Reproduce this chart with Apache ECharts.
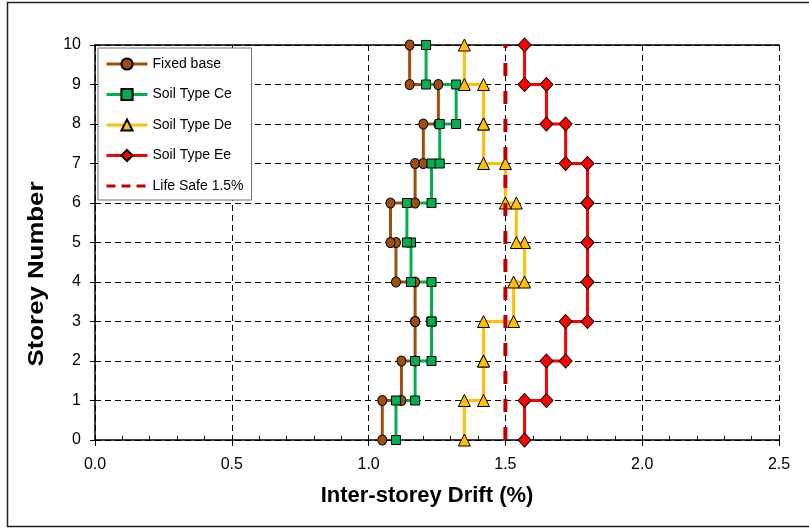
<!DOCTYPE html>
<html>
<head>
<meta charset="utf-8">
<script src="https://cdn.jsdelivr.net/npm/echarts@6/dist/echarts.min.js"></script>
<style>
  html, body { margin: 0; padding: 0; background: #fff; }
  #chart { width: 809px; height: 529px; }
</style>
</head>
<body>
<div id="chart"></div>
<script>
// Floor levels (0 = base, 10 = roof)
const storeys = [0, 1, 2, 3, 4, 5, 6, 7, 8, 9, 10];
const xTickLabels = ['0.0', '0.5', '1.0', '1.5', '2.0', '2.5'];
const yTickLabels = ['0', '1', '2', '3', '4', '5', '6', '7', '8', '9', '10'];

const seriesNames = ['Fixed base', 'Soil Type Ce', 'Soil Type De', 'Soil Type Ee', 'Life Safe 1.5%'];

// Inter-storey drift (%) of storeys 1..10
const driftFixed = [1.05, 1.12, 1.17, 1.17, 1.10, 1.08, 1.17, 1.20, 1.255, 1.15];
const driftCe    = [1.10, 1.17, 1.23, 1.23, 1.155, 1.14, 1.23, 1.26, 1.32, 1.21];
const driftDe    = [1.35, 1.42, 1.42, 1.53, 1.57, 1.54, 1.50, 1.42, 1.42, 1.35];
const driftEe    = [1.57, 1.65, 1.72, 1.80, 1.80, 1.80, 1.80, 1.72, 1.65, 1.57];
const lifeSafeLimit = 1.5;

// Each storey's drift is held constant between its lower and upper floor,
// giving a stepped profile with a marker at both ends of every step.
function stepProfile(drift) {
  const pts = [[drift[0], storeys[0]]];
  for (let i = 1; i < storeys.length - 1; i++) {
    pts.push([drift[i - 1], storeys[i]]);
    pts.push([drift[i], storeys[i]]);
  }
  pts.push([drift[drift.length - 1], storeys[storeys.length - 1]]);
  return pts;
}

const FONT = 'Liberation Sans, Arial, sans-serif';
const gridDash = { color: '#000', width: 1, type: [6, 4] };

function profileSeries(name, drift, color, symbol, size) {
  return {
    name: name,
    type: 'line',
    data: stepProfile(drift),
    symbol: symbol,
    symbolSize: size,
    showAllSymbol: true,
    lineStyle: { color: color, width: 3 },
    itemStyle: { color: color, borderColor: '#000', borderWidth: 1 },
    emphasis: { disabled: true },
    z: 3
  };
}

const chart = echarts.init(document.getElementById('chart'), null, { renderer: 'canvas' });

chart.setOption({
  animation: false,
  backgroundColor: '#fff',
  textStyle: { fontFamily: FONT },
  grid: { left: 95, right: 30, top: 45, bottom: 89, containLabel: false },
  legend: {
    data: [
      seriesNames[0], seriesNames[1], seriesNames[2], seriesNames[3],
      // limit line: dashed stroke only, no marker
      { name: seriesNames[4], itemStyle: { opacity: 0 }, lineStyle: { type: [9, 6], width: 3 } }
    ],
    orient: 'vertical',
    left: 98,
    top: 48,
    padding: [9, 8, 7, 7],
    itemWidth: 41,
    itemHeight: 14,
    itemGap: 16.5,
    lineStyle: { width: 3 },
    backgroundColor: '#fff',
    borderColor: '#6e6e6e',
    borderWidth: 1,
    textStyle: { fontFamily: FONT, fontSize: 14, color: '#000' },
    selectedMode: false
  },
  xAxis: [
    {
      type: 'value', position: 'bottom', min: 0, max: 2.5, interval: 0.5,
      axisLine: { show: true, lineStyle: { color: '#000', width: 1.5 } },
      axisTick: { show: true, inside: false, length: 6, lineStyle: { color: '#000' } },
      axisLabel: {
        margin: 17, fontSize: 16, color: '#000', fontFamily: FONT,
        formatter: (v) => xTickLabels[Math.round(v / 0.5)]
      },
      splitLine: { show: true, lineStyle: gridDash }
    },
    {
      // minor ticks every 0.1, pointing into the plot
      type: 'value', position: 'bottom', min: 0, max: 2.5, interval: 0.5,
      axisLine: { show: false },
      axisTick: { show: false, inside: true },
      minorTick: { show: true, splitNumber: 5, length: 4, lineStyle: { color: '#000', width: 1 } },
      axisLabel: { show: false },
      splitLine: { show: false }
    },
    {
      // solid top frame
      type: 'value', position: 'top', min: 0, max: 2.5, interval: 0.5,
      axisLine: { show: true, lineStyle: { color: '#000', width: 1.5 } },
      axisTick: { show: false },
      axisLabel: { show: false },
      splitLine: { show: false }
    }
  ],
  yAxis: [
    {
      type: 'value', position: 'left', min: 0, max: 10, interval: 1,
      axisLine: { show: true, lineStyle: { color: '#000', width: 1.5 } },
      axisTick: { show: true, inside: false, length: 5, lineStyle: { color: '#000' } },
      axisLabel: {
        margin: 14, fontSize: 16, color: '#000', fontFamily: FONT,
        formatter: (v) => yTickLabels[Math.round(v)]
      },
      splitLine: { show: true, lineStyle: gridDash }
    },
    {
      // inner half of the crossing ticks
      type: 'value', position: 'left', min: 0, max: 10, interval: 1,
      axisLine: { show: false },
      axisTick: { show: true, inside: true, length: 5, lineStyle: { color: '#000' } },
      axisLabel: { show: false },
      splitLine: { show: false }
    }
  ],
  series: [
    profileSeries(seriesNames[0], driftFixed, '#9C4F0E', 'circle', [9, 10]),
    profileSeries(seriesNames[1], driftCe, '#00B050', 'rect', [9, 9]),
    profileSeries(seriesNames[2], driftDe, '#FFC000', 'triangle', [12, 12]),
    profileSeries(seriesNames[3], driftEe, '#FF0000', 'diamond', [13, 14]),
    {
      name: seriesNames[4],
      type: 'line',
      data: [[lifeSafeLimit, storeys[0]], [lifeSafeLimit, storeys[storeys.length - 1]]],
      symbol: 'none',
      lineStyle: { color: '#C00000', width: 4, type: [13, 15] },
      itemStyle: { color: '#C00000' },
      emphasis: { disabled: true },
      z: 4
    }
  ],
  graphic: [
    {
      type: 'rect', silent: true, z: 100,
      shape: { x: 7.5, y: 2.5, width: 810, height: 524 },
      style: { fill: null, stroke: '#222', lineWidth: 1.5 }
    },
    {
      type: 'text', silent: true,
      x: 427, y: 496,
      style: {
        text: 'Inter-storey Drift (%)', font: 'bold 22px ' + FONT,
        fill: '#000', align: 'center', verticalAlign: 'middle'
      }
    },
    {
      type: 'text', silent: true,
      x: 37, y: 274, rotation: Math.PI / 2, scaleX: 1.2,
      style: {
        text: 'Storey Number', font: 'bold 21.5px ' + FONT,
        fill: '#000', align: 'center', verticalAlign: 'middle'
      }
    }
  ]
});
</script>
</body>
</html>
